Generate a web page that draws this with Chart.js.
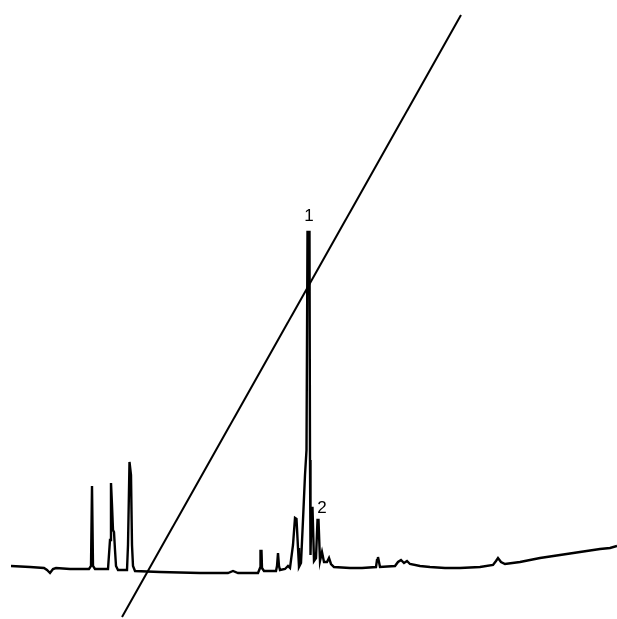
<!DOCTYPE html>
<html>
<head>
<meta charset="utf-8">
<script src="https://cdn.jsdelivr.net/npm/chart.js@4"></script>
<style>
  html, body { margin: 0; padding: 0; background: #fff; }
  #wrap { width: 617px; height: 619px; }
</style>
</head>
<body>
<div id="wrap"><canvas id="chart" width="617" height="619"></canvas></div>
<script>
// Хроматограмма: время удерживания (мин) и отклик детектора
const retentionTimes = [
  1.1, 3.0, 4.4, 4.7, 5.0, 5.3, 5.6, 7.0, 8.9, 9.1, 9.2, 9.3, 9.5,
  10.8, 11.0, 11.1, 11.2, 11.3, 11.4, 11.5, 11.6, 11.8,
  12.7, 12.8, 12.95, 13.1, 13.2, 13.3, 13.5, 16.0, 20.0, 22.8, 23.3, 23.8,
  25.8, 26.0, 26.05, 26.15, 26.2, 26.4, 27.6, 27.7, 27.8, 27.9, 28.0,
  28.5, 28.8, 29.0, 29.3, 29.5, 29.65, 29.8, 29.9, 30.1, 30.3, 30.5, 30.65,
  30.75, 30.95, 31.0, 31.05, 31.15, 31.25, 31.4, 31.6, 31.75, 31.85, 32.0,
  32.2, 32.4, 32.7, 32.9, 33.1, 33.4, 35.0, 36.2, 37.6, 37.7, 37.8, 37.9,
  38.0, 39.5, 39.8, 40.1, 40.4, 40.7, 41.0, 42.0, 43.0, 44.5, 46.0, 48.0,
  49.3, 49.6, 49.8, 50.1, 50.5, 52.0, 54.0, 56.0, 58.0, 60.0, 61.0, 61.7
];
const detectorResponse = [
  4, 3, 2, 0, -3, 1, 2, 1, 1, 4, 84, 4, 1,
  1, 30, 87, 65, 40, 38, 20, 4, 0,
  0, 25, 108, 95, 25, 4, -1, -2, -3, -3, -1, -3,
  -3, 2, 19, 19, 2, -1, -1, 4, 17, 4, 0,
  1, 4, 2, 25, 52, 51, 22, 3, 7, 50, 95, 120,
  338, 338, 110, 15, 62, 62, 9, 12, 50, 50, 9,
  18, 8, 8, 12, 6, 3, 2, 2, 3, 10, 13, 8,
  3, 4, 8, 10, 7, 9, 6, 4, 3, 2, 2, 3,
  5, 9, 12, 8, 6, 8, 12, 15, 18, 21, 22, 24
];

// Градиент элюента (% B)
const gradientTimes = [12.2, 46.1];
const gradientPercentB = [0, 100];

// Подписи пиков
const peakNumbers = ["1", "2"];
const peakLabelTimes = [30.9, 32.2];
const peakLabelResponses = [354, 62];

const traceData = retentionTimes.map((t, i) => ({ x: t, y: detectorResponse[i] }));
const gradientData = gradientTimes.map((t, i) => ({ x: t, y: gradientPercentB[i] }));

// Плагин для подписей пиков
const peakLabelPlugin = {
  id: "peakLabels",
  afterDatasetsDraw(chart) {
    const ctx = chart.ctx;
    const xs = chart.scales.x;
    const ys = chart.scales.y;
    ctx.save();
    ctx.fillStyle = "#000";
    ctx.font = "17px 'Liberation Sans', Arial, sans-serif";
    ctx.textAlign = "center";
    ctx.textBaseline = "middle";
    peakNumbers.forEach((label, i) => {
      ctx.fillText(label, xs.getPixelForValue(peakLabelTimes[i]), ys.getPixelForValue(peakLabelResponses[i]));
    });
    ctx.restore();
  },
};

const ctx = document.getElementById("chart").getContext("2d");
new Chart(ctx, {
  type: "scatter",
  data: {
    datasets: [
      {
        label: "Сигнал",
        data: traceData,
        showLine: true,
        borderColor: "#000",
        borderWidth: 2.4,
        pointRadius: 0,
        tension: 0,
        yAxisID: "y",
      },
      {
        label: "% B",
        data: gradientData,
        showLine: true,
        borderColor: "#000",
        borderWidth: 2,
        pointRadius: 0,
        yAxisID: "y2",
      },
    ],
  },
  options: {
    responsive: false,
    animation: false,
    layout: { padding: 0 },
    plugins: {
      legend: { display: false },
      tooltip: { enabled: false },
    },
    scales: {
      x: { type: "linear", min: 0, max: 61.7, display: false },
      y: { type: "linear", min: -49, max: 570, display: false },
      y2: { type: "linear", min: -0.33, max: 102.49, display: false },
    },
  },
  plugins: [peakLabelPlugin],
});
</script>
</body>
</html>
